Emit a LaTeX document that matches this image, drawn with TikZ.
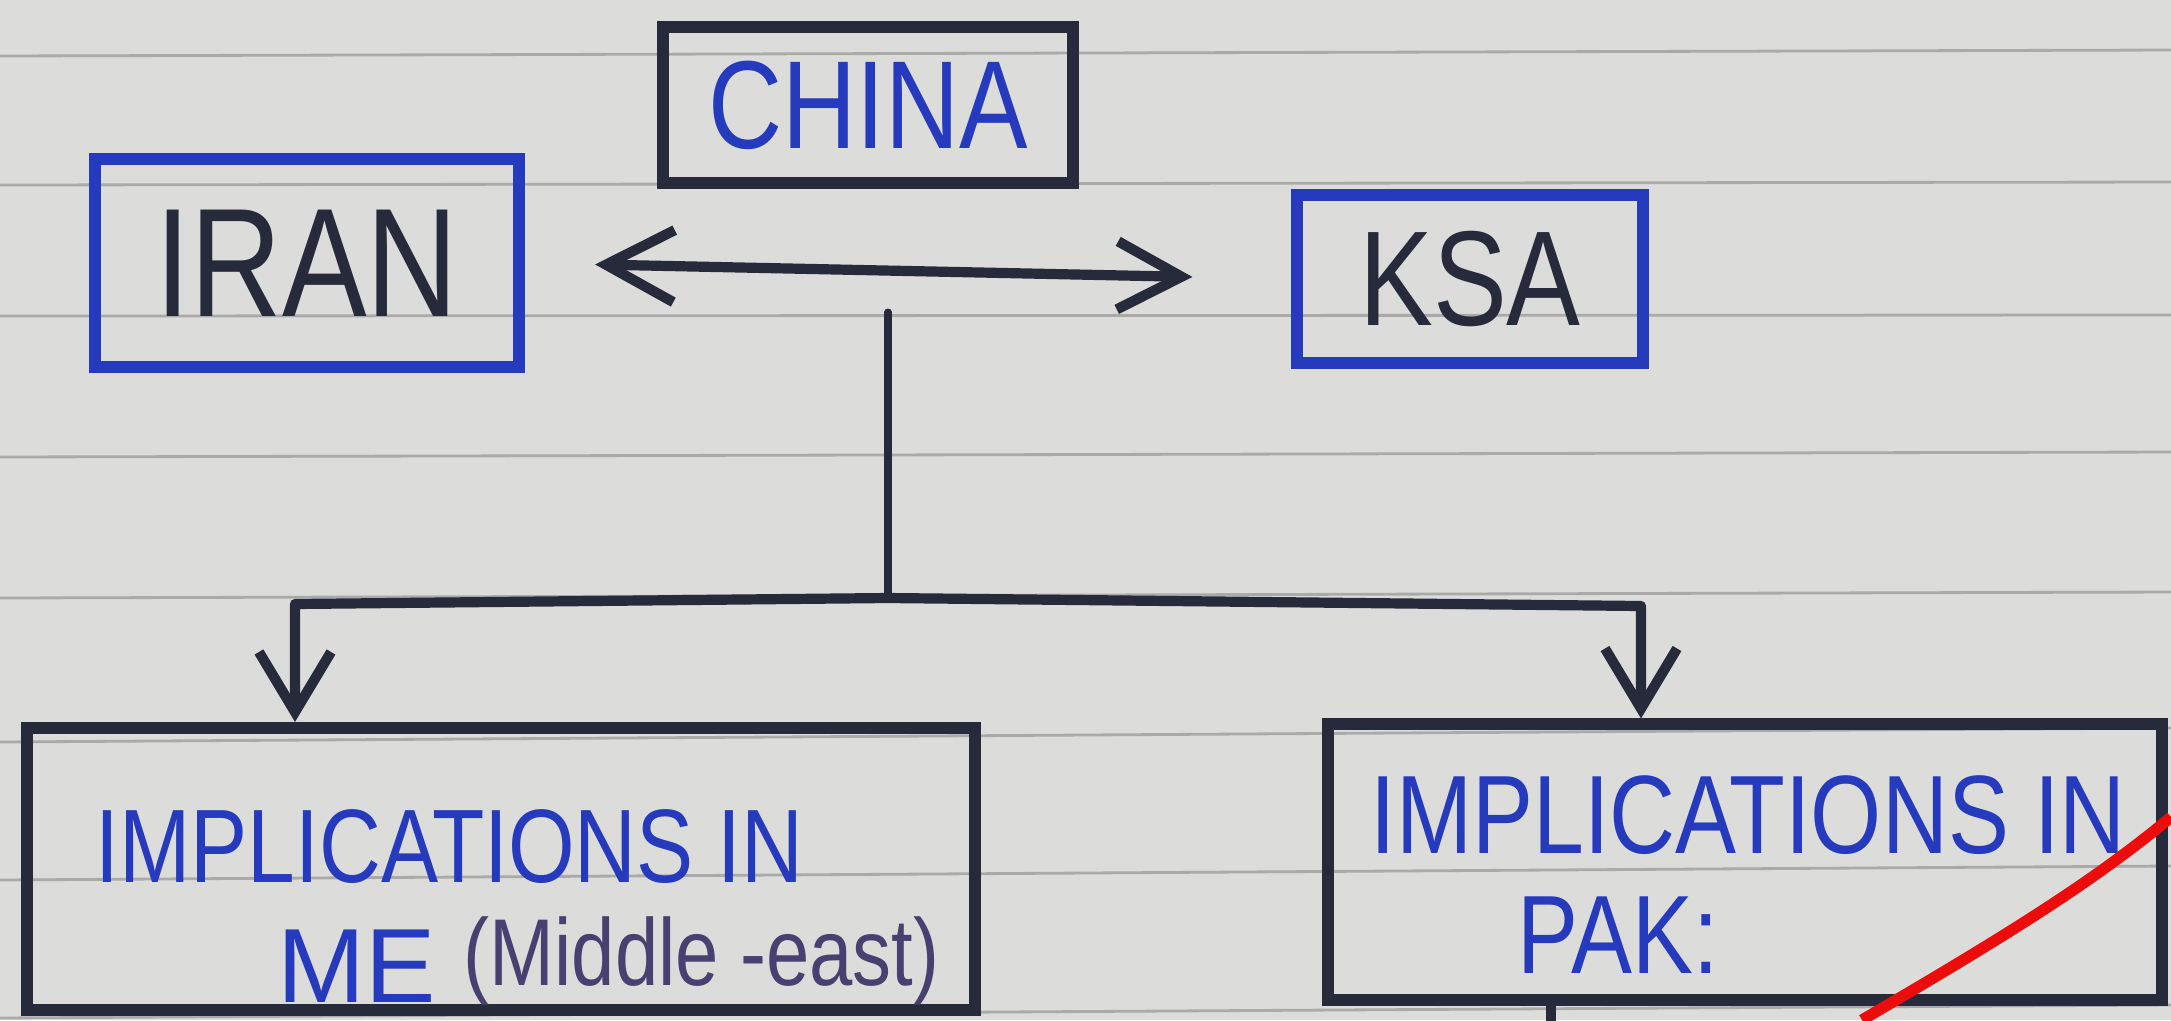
\documentclass[tikz,border=0pt]{standalone}
\usepackage{fontspec}
\setmainfont{Liberation Sans}
\newfontfamily\handfont[FakeStretch=0.82]{Liberation Sans}
\usetikzlibrary{arrows.meta}

\definecolor{paper}{RGB}{220,220,218}
\definecolor{rule}{RGB}{170,170,170}
\definecolor{ink}{RGB}{38,42,58}
\definecolor{pen}{RGB}{38,58,190}
\definecolor{pencil}{RGB}{72,64,112}
\definecolor{marker}{RGB}{236,12,12}

\tikzset{
    bluebox/.style={draw=pen, line width=3.4pt, inner sep=0pt},
    inkbox/.style={draw=ink, line width=3.4pt, inner sep=0pt},
    label/.style={anchor=base west, inner sep=0pt},
    link/.style={draw=ink, line width=2.9pt, line cap=round, line join=round},
    barb/.style={-{Straight Barb[length=0.6cm, width=0.72cm]}},
    dblbarb/.style={{Straight Barb[length=0.68cm, width=0.72cm]}-{Straight Barb[length=0.64cm, width=0.68cm]}}
}

\begin{document}
\begin{tikzpicture}[x=0.01cm, y=-0.01cm]
    \useasboundingbox (0,0) rectangle (2171,1020);
    \fill[paper] (0,0) rectangle (2171,1020);
    % ruled page
    \foreach \ya/\yb in {56/50, 185/182, 316/315, 457/452, 598/592, 742/728, 880/866, 1018/1005}
        \draw[rule, line width=0.8pt] (0,\ya) -- (2171,\yb);

    \node [inkbox, minimum width=4.10cm, minimum height=1.55cm, text=pen, font=\handfont\fontsize{35.6}{40}\selectfont] (china) at (868,105) {CHINA};
    \node [bluebox, minimum width=4.24cm, minimum height=2.07cm, text=ink, font=\handfont\fontsize{44}{48}\selectfont] (iran) at (307,263) {IRAN};
    \node [bluebox, minimum width=3.45cm, minimum height=1.68cm, text=ink, font=\handfont\fontsize{38.4}{42}\selectfont] (ksa) at (1470,279) {KSA};

    \node [inkbox, minimum width=9.47cm, minimum height=2.82cm] (meimp) at (501,869) {};
    \node [inkbox, minimum width=8.33cm, minimum height=2.75cm] (pakimp) at (1745,862) {};

    \node [label, text=pen, font=\handfont\fontsize{29.7}{34}\selectfont] (metitle) at (95,882) {IMPLICATIONS IN};
    \node [label, text=pen, font=\fontsize{30}{34}\selectfont] (mename) at (277,1002) {ME};
    \node [label, text=pencil, font=\handfont\fontsize{27}{30}\selectfont] (menote) at (463,985) {(Middle -east)};
    \node [label, text=pen, font=\handfont\fontsize{31.7}{36}\selectfont] (paktitle) at (1370,853) {IMPLICATIONS IN};
    \node [label, text=pen, font=\handfont\fontsize{31.7}{36}\selectfont] (pakname) at (1517,973) {PAK:};

    \coordinate (stem) at (888,312);
    \coordinate (hub) at (888,598);
    \coordinate (busL) at (295,604);
    \coordinate (busR) at (1641,606);
    \coordinate (pakout) at (1551,1020);

    \draw [link, dblbarb, shorten <=0.7cm, shorten >=0.99cm] (iran.east) -- (ksa.west);
    \draw [link, line width=2pt] (stem) -- (hub);
    \draw [link, barb] (hub) -- (busL) -- (busL |- meimp.north);
    \draw [link, barb] (hub) -- (busR) -- (busR |- pakimp.north);
    \draw [link] (pakimp.south -| pakout) -- (pakout);

    \draw [marker, line width=3.2pt] (1862,1020) .. controls (1990,945) and (2090,885) .. (2171,817);
\end{tikzpicture}
\end{document}
